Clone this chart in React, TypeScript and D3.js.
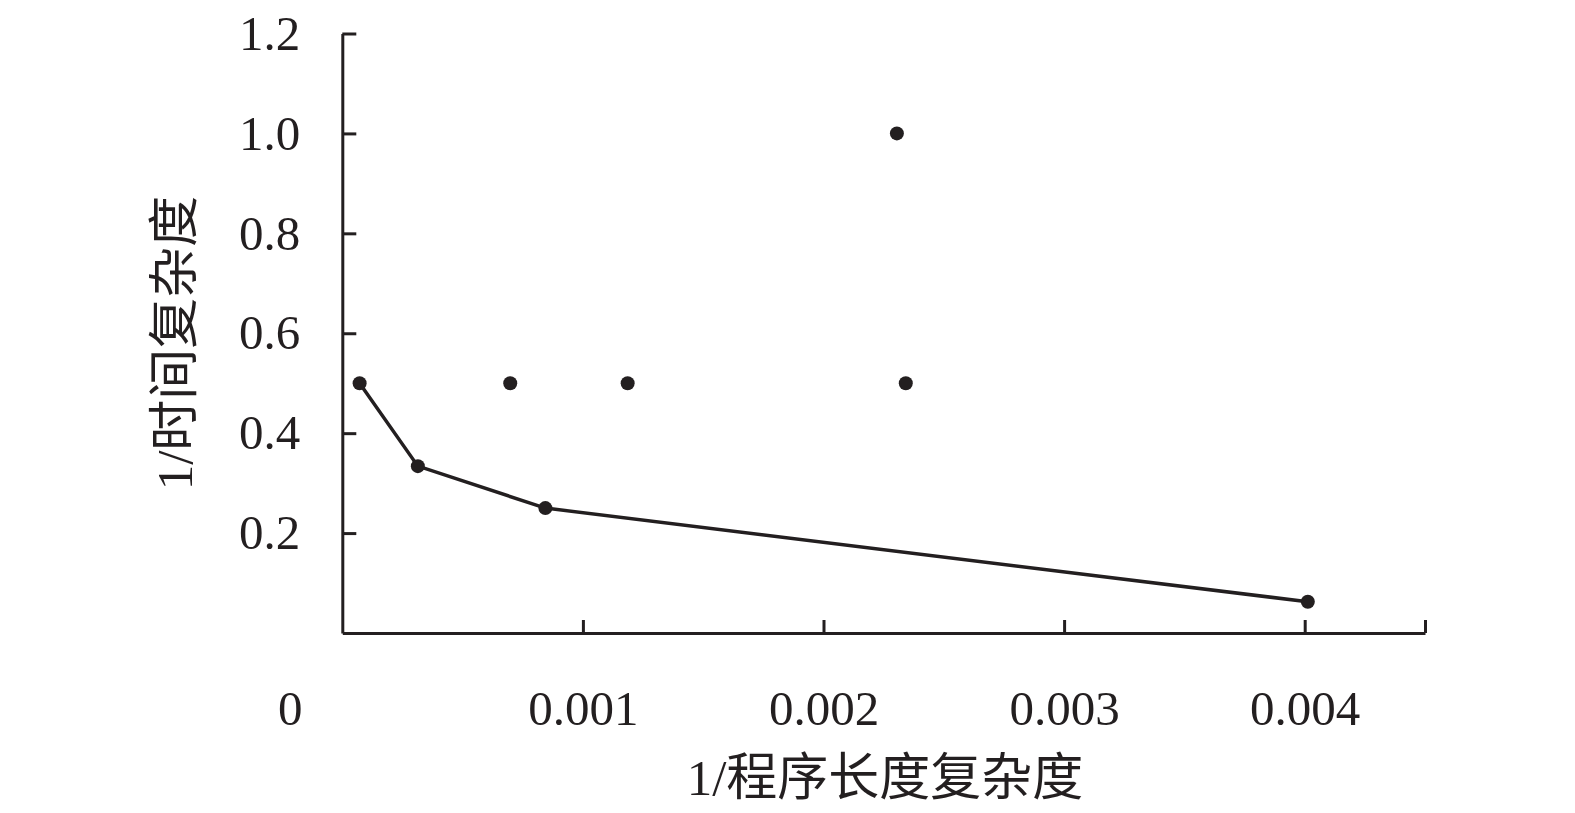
import React, { useRef, useEffect } from "react";
import * as d3 from "d3";

// connected series (1/program length complexity vs 1/time complexity)
const lineX = [0.000072, 0.000314, 0.000844, 0.004013];
const lineY = [0.5, 0.334, 0.25, 0.0625];

// scattered points
const dotX = [0.000698, 0.001186, 0.002305, 0.002342];
const dotY = [0.5, 0.5, 1.0, 0.5];

const xTicks = [0.001, 0.002, 0.003, 0.004, 0.0045];
const xTickLabels = ["0.001", "0.002", "0.003", "0.004", ""];
const yTicks = [0.2, 0.4, 0.6, 0.8, 1.0, 1.2];
const yTickLabels = ["0.2", "0.4", "0.6", "0.8", "1.0", "1.2"];

const xTitle = "1/程序长度复杂度";
const yTitle = "1/时间复杂度";

const INK = "#231f20";
const FONT = "'Liberation Serif', 'Noto Sans CJK SC', serif";

const App = () => {
  const chartRef = useRef<SVGSVGElement | null>(null);

  const tWidth = 1575;
  const tHeight = 813;
  const margin = { top: 33.5, right: 150, bottom: 180, left: 342.3 };

  useEffect(() => {
    const root = d3.select(chartRef.current);
    root.selectAll("*").remove();

    const svg = root
      .append("g")
      .attr("transform", `translate(${margin.left}, ${margin.top})`);

    const x = d3.scaleLinear().domain([0, 0.0045]).range([0, 1082.7]);
    const y = d3.scaleLinear().domain([0, 1.2]).range([599.5, 0]);
    const h = y(0);

    // x axis
    svg
      .append("g")
      .attr("transform", `translate(0, ${h})`)
      .call(
        d3
          .axisBottom(x)
          .tickValues(xTicks)
          .tickSize(-13)
          .tickSizeOuter(0)
          .tickFormat((d, i) => xTickLabels[i])
      )
      .call((g) => {
        g.select(".domain").attr("stroke", INK).attr("stroke-width", 3);
        g.selectAll(".tick line").attr("stroke", INK).attr("stroke-width", 3);
        g.selectAll(".tick text")
          .attr("y", 57)
          .attr("dy", "0.71em")
          .attr("fill", INK)
          .style("font-family", FONT)
          .style("font-size", "49px");
      });

    // y axis
    svg
      .append("g")
      .call(
        d3
          .axisLeft(y)
          .tickValues(yTicks)
          .tickSize(-14)
          .tickSizeOuter(0)
          .tickFormat((d, i) => yTickLabels[i])
      )
      .call((g) => {
        g.select(".domain").attr("stroke", INK).attr("stroke-width", 3);
        g.selectAll(".tick line").attr("stroke", INK).attr("stroke-width", 3);
        g.selectAll(".tick text")
          .attr("x", -42)
          .attr("dy", "0.32em")
          .attr("fill", INK)
          .style("font-family", FONT)
          .style("font-size", "49px");
      });

    // origin label
    svg
      .append("text")
      .attr("x", x(0) - 52)
      .attr("y", h + 57)
      .attr("dy", "0.71em")
      .attr("text-anchor", "middle")
      .attr("fill", INK)
      .style("font-family", FONT)
      .style("font-size", "49px")
      .text("0");

    // line
    const pts = lineX.map((v, i) => [v, lineY[i]] as [number, number]);
    svg
      .append("path")
      .datum(pts)
      .attr("fill", "none")
      .attr("stroke", INK)
      .attr("stroke-width", 3.5)
      .attr(
        "d",
        d3
          .line<[number, number]>()
          .x((d) => x(d[0]))
          .y((d) => y(d[1]))
      );

    svg
      .selectAll("circle.line-pt")
      .data(pts)
      .join("circle")
      .attr("class", "line-pt")
      .attr("cx", (d) => x(d[0]))
      .attr("cy", (d) => y(d[1]))
      .attr("r", 7)
      .attr("fill", INK);

    // scatter dots
    svg
      .selectAll("circle.dot")
      .data(dotX.map((v, i) => [v, dotY[i]]))
      .join("circle")
      .attr("class", "dot")
      .attr("cx", (d) => x(d[0]))
      .attr("cy", (d) => y(d[1]))
      .attr("r", 7)
      .attr("fill", INK);

    // axis titles
    root
      .append("text")
      .attr("x", 885)
      .attr("y", 777)
      .attr("dy", "0.35em")
      .attr("text-anchor", "middle")
      .attr("fill", INK)
      .style("font-family", FONT)
      .style("font-size", "51px")
      .text(xTitle);

    root
      .append("text")
      .attr("transform", `translate(174, 343) rotate(-90)`)
      .attr("dy", "0.35em")
      .attr("text-anchor", "middle")
      .attr("fill", INK)
      .style("font-family", FONT)
      .style("font-size", "51px")
      .text(yTitle);
  }, []);

  return (
    <div style={{ position: "absolute", left: 0, top: 0, background: "#fff" }}>
      <svg ref={chartRef} width={tWidth} height={tHeight}></svg>
    </div>
  );
};

export default App;
